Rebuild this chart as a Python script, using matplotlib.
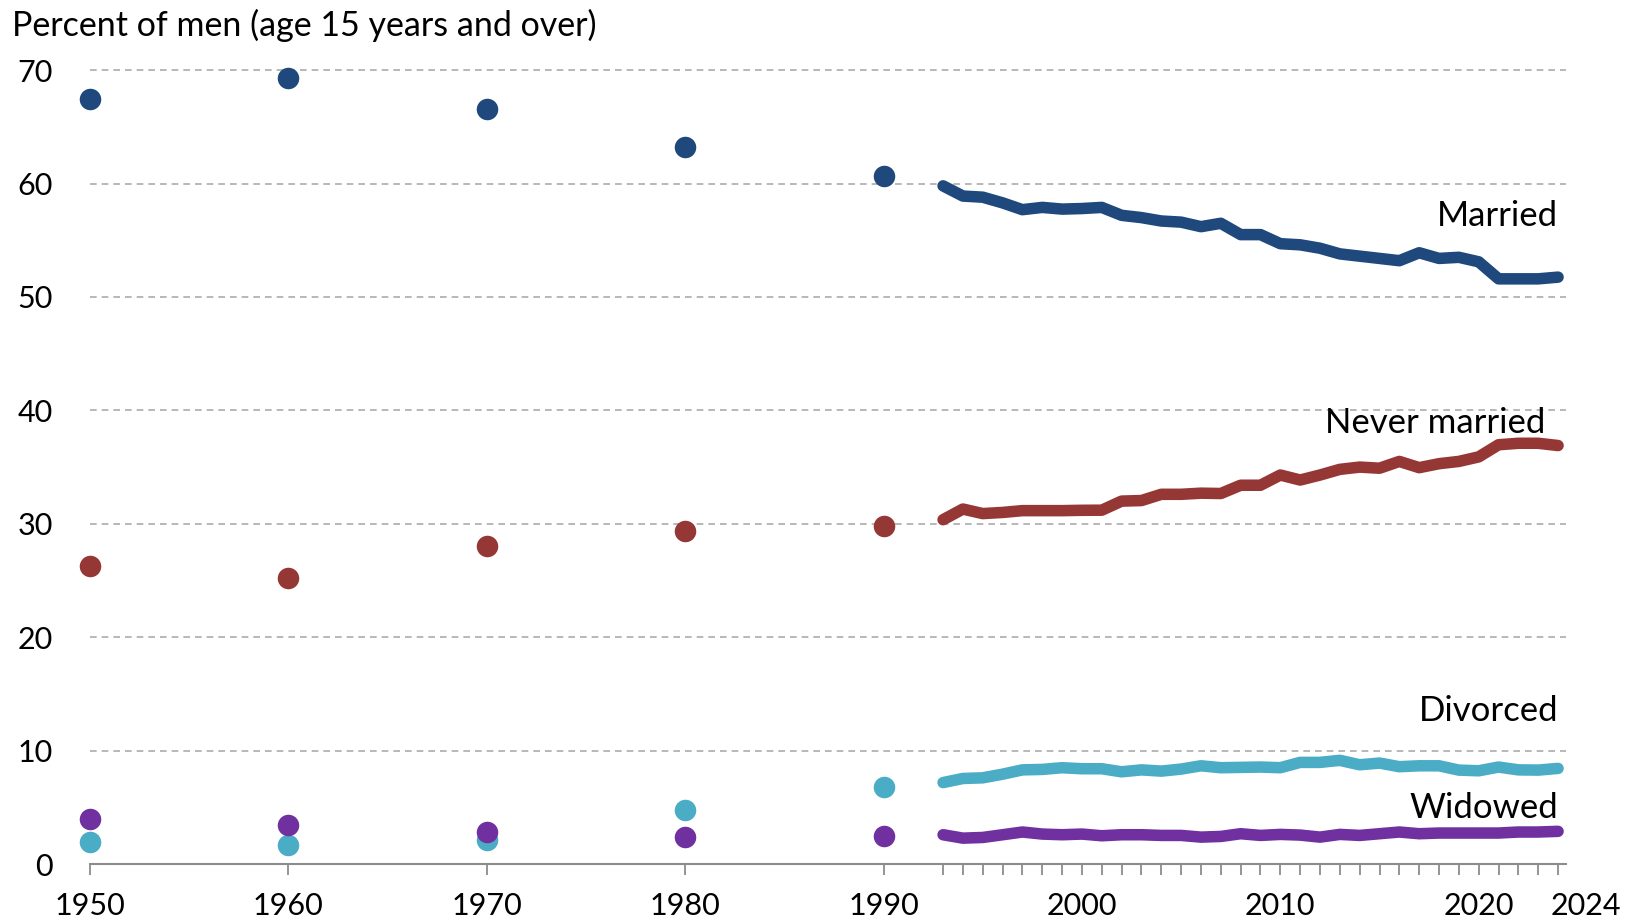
import matplotlib
matplotlib.use("Agg")
import matplotlib.pyplot as plt
from matplotlib.transforms import ScaledTranslation
import numpy as np

# ---- data ----
decade_years = [1950, 1960, 1970, 1980, 1990]
married_decade = [67.5, 69.3, 66.6, 63.2, 60.7]
never_married_decade = [26.3, 25.2, 28.0, 29.4, 29.8]
divorced_decade = [1.9, 1.7, 2.1, 4.8, 6.8]
widowed_decade = [4.0, 3.4, 2.8, 2.4, 2.5]

annual_years = list(range(1993, 2025))
married_annual = [59.8, 58.9, 58.8, 58.3, 57.7, 57.9, 57.75, 57.8, 57.9, 57.2,
                  57.0, 56.7, 56.6, 56.2, 56.5, 55.5, 55.5, 54.7, 54.6, 54.3,
                  53.8, 53.6, 53.4, 53.2, 53.9, 53.4, 53.5, 53.1, 51.6, 51.6,
                  51.6, 51.75]
never_married_annual = [30.36, 31.3, 30.9, 31.0, 31.16, 31.16, 31.16, 31.19, 31.2, 32.0,
                        32.05, 32.6, 32.6, 32.7, 32.67, 33.4, 33.4, 34.3, 33.86, 34.3,
                        34.8, 35.0, 34.9, 35.5, 34.95, 35.3, 35.5, 35.9, 36.97, 37.1,
                        37.1, 36.9]
divorced_annual = [7.18, 7.54, 7.6, 7.92, 8.3, 8.34, 8.49, 8.4, 8.4, 8.13,
                   8.3, 8.19, 8.37, 8.66, 8.49, 8.52, 8.55, 8.49, 8.96, 8.96,
                   9.14, 8.75, 8.9, 8.58, 8.66, 8.66, 8.28, 8.22, 8.55, 8.3,
                   8.28, 8.43]
widowed_annual = [2.58, 2.28, 2.34, 2.58, 2.82, 2.64, 2.58, 2.64, 2.49, 2.58,
                  2.58, 2.52, 2.52, 2.37, 2.43, 2.67, 2.52, 2.61, 2.55, 2.37,
                  2.61, 2.52, 2.67, 2.82, 2.67, 2.73, 2.73, 2.73, 2.73, 2.82,
                  2.82, 2.88]

series_names = ["Married", "Never married", "Divorced", "Widowed"]
colors = ["#1F497D", "#953735", "#4BACC6", "#7030A0"]
label_positions = [(2024, 57.1), (2023.35, 38.9), (2024, 13.5), (2024, 4.9)]

x_tick_labels = {1950: "1950", 1960: "1960", 1970: "1970", 1980: "1980",
                 1990: "1990", 2000: "2000", 2010: "2010", 2020: "2020"}
last_year_label = "2024"
y_ticks = [0, 10, 20, 30, 40, 50, 60, 70]

plt.rcParams['font.family'] = ['Lato', 'DejaVu Sans']
TICK_FS = 22
LABEL_FS = 25
TITLE_FS = 24.5
TICK_LEN = 8
XPAD = 12

fig = plt.figure(figsize=(16.26, 9.24), dpi=100)
ax = fig.add_axes([90 / 1626, 1 - 864 / 924, (1566 - 90) / 1626, 816.5 / 924])

decade_data = [married_decade, never_married_decade, divorced_decade, widowed_decade]
annual_data = [married_annual, never_married_annual, divorced_annual, widowed_annual]

for name, col, dec, ann, (lx, ly) in zip(series_names, colors, decade_data, annual_data, label_positions):
    ax.plot(annual_years, ann, color=col, lw=8.3, solid_capstyle='round',
            solid_joinstyle='round', zorder=3, clip_on=False)
    ax.scatter(decade_years, dec, s=15.5 ** 2, color=col, zorder=4,
               clip_on=False, linewidths=0)
    ax.text(lx, ly, name, ha='right', va='center', fontsize=LABEL_FS, color='black')

ax.set_xlim(1950, 2024.4)
ax.set_ylim(0, 72)

ax.set_yticks(y_ticks)
ax.set_yticklabels([str(v) for v in y_ticks])
for v in y_ticks[1:]:
    ax.axhline(v, color='#ababab', lw=1.2, ls=(0, (4, 3)), zorder=1)

all_ticks = decade_years + annual_years
ax.set_xticks(all_ticks)
ax.set_xticklabels([x_tick_labels.get(t, "") for t in all_ticks])

for s in ['top', 'right', 'left']:
    ax.spines[s].set_visible(False)
ax.spines['bottom'].set_color('#8c8c8c')
ax.spines['bottom'].set_linewidth(1.5)
ax.spines['bottom'].set_zorder(2)

ax.tick_params(axis='x', length=TICK_LEN, width=1.3, color='#8c8c8c',
               labelsize=TICK_FS, pad=XPAD)
ax.tick_params(axis='y', length=0, labelsize=TICK_FS, pad=26.5)

# last-year label sits slightly right of its tick, as in the original
off = ScaledTranslation(20 / 72, -(TICK_LEN + XPAD) / 72, fig.dpi_scale_trans)
ax.text(annual_years[-1], 0, last_year_label, transform=ax.get_xaxis_transform() + off,
        ha='center', va='top', fontsize=TICK_FS, clip_on=False)

fig.text(12 / 1626, 1 - 25 / 924, "Percent of men (age 15 years and over)",
         ha='left', va='center', fontsize=TITLE_FS)

fig.savefig("out.png", dpi=100)
